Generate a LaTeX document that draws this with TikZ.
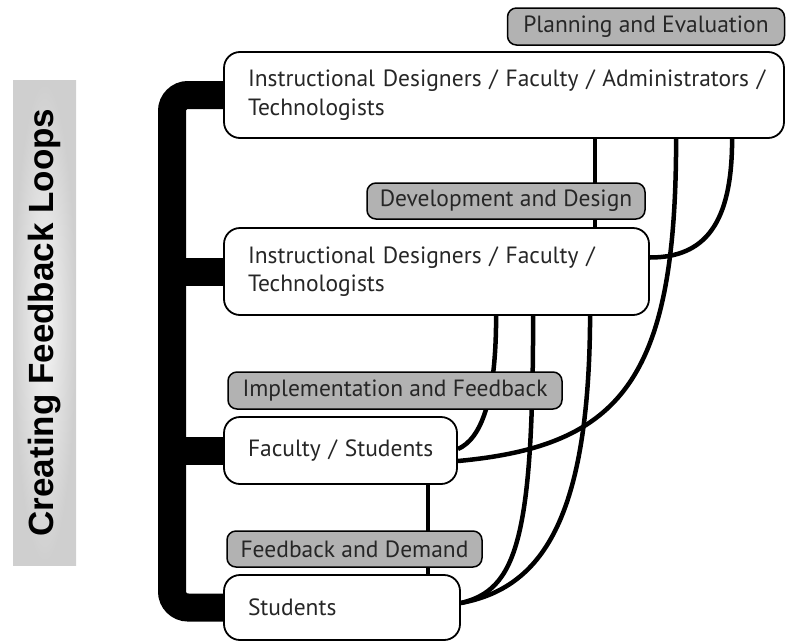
\documentclass[tikz,border=0pt]{standalone}
\usepackage{fontspec}
\setmainfont{PT Sans}
\newfontfamily\titlefont{Liberation Sans}
\usetikzlibrary{backgrounds}

\tikzset{
	rolebox/.style={draw, line width=1.8pt, fill=white, rounded corners=16pt, align=left, inner xsep=24pt, inner ysep=0pt, text=black!85, font=\fontsize{23.5}{28.5}\selectfont},
	phasebox/.style={draw, line width=1.5pt, fill=black!30, rounded corners=9pt, inner sep=0pt, text=black!85, font=\fontsize{23.5}{28}\selectfont},
	feedback/.style={line width=4.5pt},
}

\begin{document}
\begin{tikzpicture}[x=1pt, y=-1pt]
		%%%%% START %%%%%
		\useasboundingbox (0, 0) rectangle (786, 643);
		
		\node[rotate=90, minimum width=485pt, minimum height=63pt, inner sep=0pt, inner color=black!4, outer color=black!19] (title) at (44.5, 322.5) {\titlefont\bfseries\fontsize{35}{40}\selectfont Creating Feedback Loops};
		
		\node[phasebox, minimum width=277pt, minimum height=37pt] (plan) at (646, 26.5) {Planning and Evaluation};
		\node[rolebox, text width=512pt, minimum height=86pt] (top) at (504, 95) {\mbox{Instructional Designers /\ Faculty /\ Administrators /}\\Technologists};
		
		\node[phasebox, minimum width=278pt, minimum height=36pt] (dev) at (506, 201) {Development and Design};
		\node[rolebox, text width=377pt, minimum height=87pt] (mid) at (436.5, 271.5) {Instructional Designers / Faculty /\\Technologists};
		
		\node[phasebox, minimum width=334pt, minimum height=37pt] (impl) at (395, 390.5) {Implementation and Feedback};
		\node[rolebox, text width=185pt, minimum height=67pt] (fac) at (340.5, 450.5) {\mbox{Faculty / Students}};
		
		\node[phasebox, minimum width=255pt, minimum height=36pt] (dem) at (354.5, 549) {Feedback and Demand};
		\node[rolebox, text width=188pt, minimum height=65pt] (stu) at (342, 607.5) {Students};
		
		\coordinate (spine) at (172, 0);
		
		\begin{scope}[on background layer]
		% bracket
		\draw[line width=28pt, rounded corners=16pt] (top.west) -| (spine |- stu.west) -- (stu.west);
		\draw[line width=28pt] (mid.west) -- (mid.west -| spine);
		\draw[line width=28pt] (fac.west) -- (fac.west -| spine);
		
		% loops
		\draw[feedback] ([xshift=372pt]top.south west) -- ([xshift=372pt]mid.north west);
		\draw[feedback] ([xshift=509pt]top.south west) .. controls +(0, 85) and +(55, 0) .. ([yshift=14pt]mid.east);
		\draw[feedback] ([xshift=453pt]top.south west) .. controls +(0, 241) and +(163, -15) .. ([yshift=-10.5pt]fac.east);
		\draw[feedback] ([xshift=273pt]mid.south west) .. controls +(0, 85) and +(23, -10) .. ([yshift=1.5pt]fac.east);
		\draw[feedback] ([xshift=310pt]mid.south west) .. controls +(0, 225) and +(55, -13) .. ([yshift=4.5pt]stu.east);
		\draw[feedback] ([xshift=367pt]mid.south west) .. controls +(-1, 205) and +(80, -15) .. ([yshift=4.5pt]stu.east);
		\draw[feedback] ([xshift=205pt]fac.south west) -- ([xshift=205pt]stu.north west);
		\end{scope}
		%%%%% END %%%%%
\end{tikzpicture}
\end{document}
